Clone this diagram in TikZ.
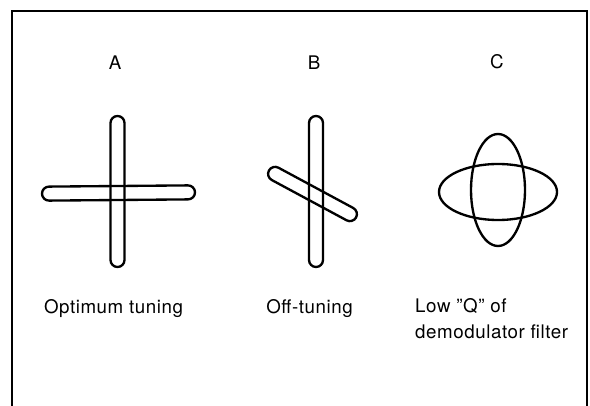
\documentclass[tikz,border=0pt]{standalone}
\usepackage{fontspec}
\setmainfont{TeX Gyre Heros}
\usetikzlibrary{positioning}
\tikzset{
  trace/.style={line width=2pt},
  caption/.style={font=\fontsize{16}{22}\selectfont\addfontfeatures{LetterSpace=3}, inner sep=0pt},
  panel/.style={font=\fontsize{16}{18}\selectfont, inner sep=0pt}
}
% capsule of half length #1 (between arc centres) and radius #2
\newcommand{\capsulepath}[2]{(-#1,-#2) -- (#1,-#2) arc(-90:90:#2) -- (-#1,#2) arc(90:270:#2) -- cycle}
\begin{document}
\begin{tikzpicture}
    % Page size
    \useasboundingbox (0,0) rectangle (17.7,12.15);

    % Frame, open at the bottom
    \draw[line width=1.3pt] (0.36,-0.2) -- (0.36,11.82) -- (17.61,11.82) -- (17.61,-0.2);

    % Panel letters
    \node[panel] (labA) at (3.45,10.26) {A};
    \node[panel] (labB) at (9.42,10.26) {B};
    \node[panel] (labC) at (14.91,10.29) {C};

    % A: two bars at right angles
    \draw[trace, shift={(3.525,6.405)}, rotate=90] \capsulepath{2.055}{0.21};
    \draw[trace, shift={(3.555,6.36)}, rotate=0.5] \capsulepath{2.085}{0.21};

    % B: second bar tilted
    \draw[trace, shift={(9.48,6.405)}, rotate=90] \capsulepath{2.055}{0.21};
    \draw[trace, shift={(9.375,6.33)}, rotate=-28.3] \capsulepath{1.275}{0.21};

    % C: two ellipses
    \draw[trace] (14.94,6.39) ellipse (1.77 and 0.84);
    \draw[trace] (14.94,6.45) ellipse (0.81 and 1.68);

    % Captions
    \node[caption] (capA) at (3.405,2.9) {Optimum tuning};
    \node[caption] (capB) at (9.285,2.9) {Off-tuning};
    \node[caption, anchor=north west, align=left] (capC) at (12.45,3.2)
        {Low ''Q'' of\\demodulator filter};
\end{tikzpicture}
\end{document}
